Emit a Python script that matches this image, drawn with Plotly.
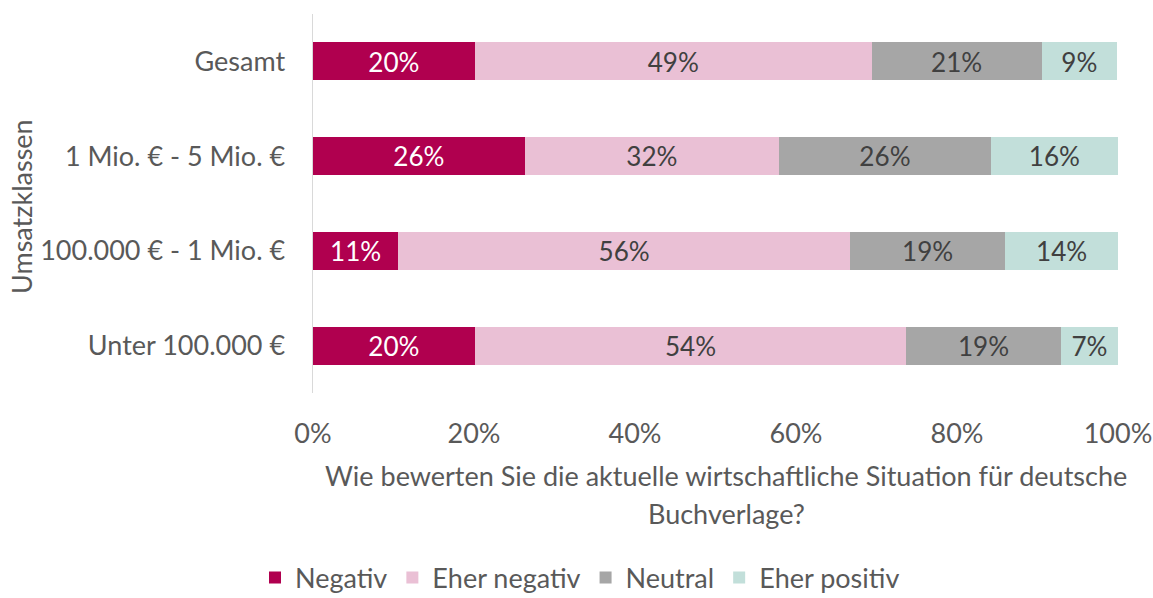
import plotly.graph_objects as go

categories = ["Gesamt", "1 Mio. € - 5 Mio. €", "100.000 € - 1 Mio. €", "Unter 100.000 €"]
series_names = ["Negativ", "Eher negativ", "Neutral", "Eher positiv"]
negativ = [20.1, 26.3, 10.6, 20.1]
eher_negativ = [49.3, 31.6, 56.1, 53.6]
neutral = [21.1, 26.3, 19.3, 19.2]
eher_positiv = [9.4, 15.8, 14.0, 7.1]
x_tickvals = [0, 20, 40, 60, 80, 100]
x_ticktext = ["0%", "20%", "40%", "60%", "80%", "100%"]

colors = ["#B0004F", "#EAC0D5", "#A6A6A6", "#C2DFDA"]
label_colors = ["#FFFFFF", "#404040", "#404040", "#404040"]
FONT = "Lato"
TXT = "#595959"
FS = 27

L, R, T, B = 313, 1118, 14, 393
W, H = 1153, 598
PW, PH = R - L, B - T

fig = go.Figure()
for name, vals, col, lc in zip(series_names, [negativ, eher_negativ, neutral, eher_positiv], colors, label_colors):
    fig.add_trace(go.Bar(
        y=categories, x=vals, name=name, orientation="h",
        marker=dict(color=col, line=dict(width=0)),
        text=[f"{round(v)}%" for v in vals],
        textposition="inside", insidetextanchor="middle",
        textfont=dict(family=FONT, size=FS, color=lc),
        hoverinfo="skip",
    ))

fig.update_layout(
    width=W, height=H,
    barmode="stack", bargap=0.6,
    plot_bgcolor="white", paper_bgcolor="white",
    margin=dict(l=L, r=W - R, t=T, b=H - B, autoexpand=False),
    font=dict(family=FONT, size=FS, color=TXT),
    uniformtext=dict(minsize=FS - 2, mode="show"),
    showlegend=True,
    legend=dict(orientation="h", x=580 / W, xref="container", xanchor="center",
                y=1 - 578 / H, yref="container", yanchor="middle", itemwidth=30,
                font=dict(family=FONT, size=FS, color=TXT), traceorder="normal"),
    xaxis=dict(range=[0, 100], tickvals=x_tickvals, ticktext=x_ticktext, showgrid=False,
               zeroline=False, showline=False, ticks="", ticklabelstandoff=22, automargin=False,
               tickfont=dict(family=FONT, size=FS, color=TXT)),
    yaxis=dict(categoryorder="array", categoryarray=categories, autorange="reversed",
               showgrid=False, zeroline=False, showline=True, linecolor="#D9D9D9", linewidth=1.5,
               ticks="", ticklabelstandoff=21, automargin=False,
               tickfont=dict(family=FONT, size=FS, color=TXT)),
)

fig.add_annotation(text="Wie bewerten Sie die aktuelle wirtschaftliche Situation für deutsche",
                   xref="paper", yref="paper", x=(726 - L) / PW, y=-(475 - B) / PH,
                   xanchor="center", yanchor="middle", showarrow=False,
                   font=dict(family=FONT, size=FS, color=TXT))
fig.add_annotation(text="Buchverlage?",
                   xref="paper", yref="paper", x=(726 - L) / PW, y=-(513 - B) / PH,
                   xanchor="center", yanchor="middle", showarrow=False,
                   font=dict(family=FONT, size=FS, color=TXT))
fig.add_annotation(text="Umsatzklassen", textangle=-90,
                   xref="paper", yref="paper", x=-(L - 21) / PW, y=1 - (207 - T) / PH,
                   xanchor="center", yanchor="middle", showarrow=False,
                   font=dict(family=FONT, size=FS, color=TXT))

fig.write_html("out.html", config={"displayModeBar": False, "staticPlot": True},
               post_script="document.body.style.margin='0';document.body.style.overflow='hidden';")
